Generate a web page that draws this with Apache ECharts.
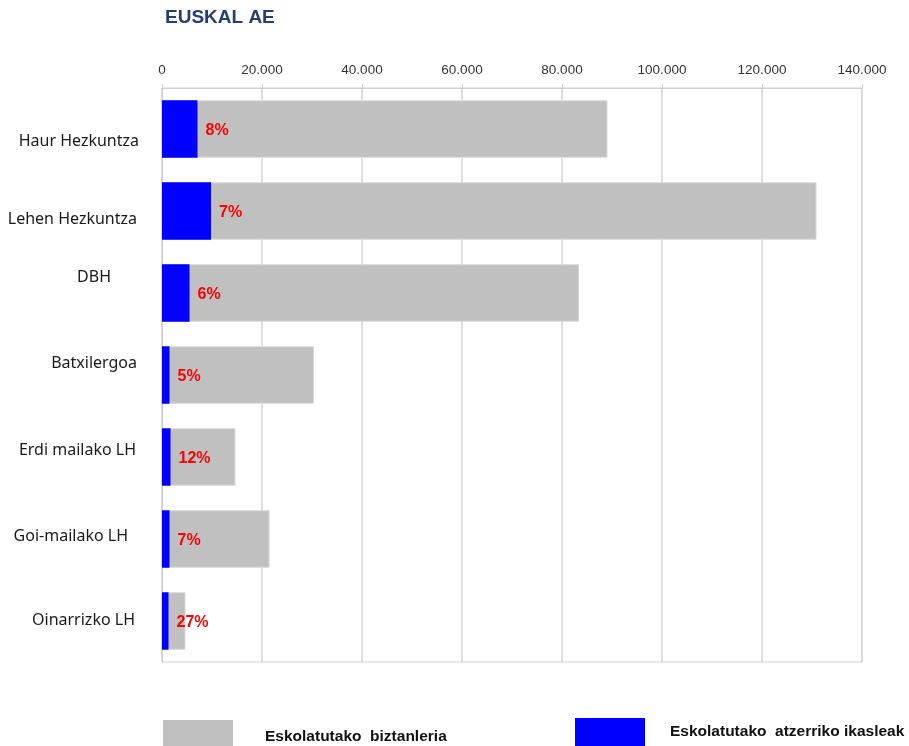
<!DOCTYPE html>
<html>
<head>
<meta charset="utf-8">
<script src="https://cdn.jsdelivr.net/npm/echarts@6/dist/echarts.min.js"></script>
<style>html,body{margin:0;padding:0;background:#fff;}#c{width:909px;height:746px;}</style>
</head>
<body>
<div id="c"></div>
<script>
// Data
var categories = ['Haur Hezkuntza', 'Lehen Hezkuntza', 'DBH', 'Batxilergoa', 'Erdi mailako LH', 'Goi-mailako LH', 'Oinarrizko LH'];
var totalPopulation = [89100, 130900, 83400, 30400, 14700, 21500, 4700];   // Eskolatutako biztanleria
var foreignStudents = [7100, 9800, 5500, 1500, 1700, 1500, 1300];         // Eskolatutako atzerriko ikasleak
var percentLabels = ['8%', '7%', '6%', '5%', '12%', '7%', '27%'];
var seriesNames = ['Eskolatutako  biztanleria', 'Eskolatutako  atzerriko ikasleak'];
var axisMax = 140000, axisStep = 20000;

// Style-only nudges for category labels [extra right padding, vertical shift]
var labelNudge = [[1, 12], [3, 8], [29, -16], [3, -12], [4, -7], [12, -3], [5, -1]];

var rich = {};
labelNudge.forEach(function (n, i) {
  var dy = n[1];
  rich['a' + i] = {
    fontFamily: 'Noto Sans', fontSize: 16, color: '#1a1a1a',
    padding: [dy > 0 ? 2 * dy : 0, n[0], dy < 0 ? -2 * dy : 0, 0]
  };
});

var legendFont = { fontFamily: 'Liberation Sans, Arial', fontSize: 15.5, fontWeight: 'bold', color: '#111' };

var chart = echarts.init(document.getElementById('c'));
chart.setOption({
  animation: false,
  title: {
    text: 'EUSKAL AE', left: 160, top: 3,
    textStyle: { fontFamily: 'Liberation Sans, Arial', fontSize: 19, fontWeight: 'bold', color: '#263f70' }
  },
  legend: [{
    data: [seriesNames[0]], left: 163, top: 720, padding: 0, itemWidth: 70, itemHeight: 34, icon: 'rect',
    itemStyle: { borderWidth: 0 },
    textStyle: Object.assign({ padding: [0, 0, 0, 27] }, legendFont)
  }, {
    data: [seriesNames[1]], left: 575, top: 718, padding: 0, itemWidth: 70, itemHeight: 28, icon: 'rect',
    itemStyle: { borderWidth: 0 },
    textStyle: Object.assign({ padding: [0, 0, 0, 20] }, legendFont)
  }],
  grid: { left: 162, right: 47, top: 88, bottom: 84, show: true, borderColor: '#cfcfcf', borderWidth: 1 },
  xAxis: {
    type: 'value', position: 'top', min: 0, max: axisMax, interval: axisStep,
    axisLine: { show: true, lineStyle: { color: '#cfcfcf' } },
    axisTick: { show: true, length: 4, lineStyle: { color: '#cfcfcf' } },
    splitLine: { show: true, lineStyle: { color: '#d4d4d4', width: 1.5 } },
    axisLabel: {
      margin: 11, fontFamily: 'Liberation Sans, Arial', fontSize: 13.5, color: '#333',
      formatter: function (v) { return String(v).replace(/\B(?=(\d{3})+(?!\d))/g, '.'); }
    }
  },
  yAxis: {
    type: 'category', data: categories, inverse: true,
    axisLine: { show: true, lineStyle: { color: '#cfcfcf' } },
    axisTick: { show: false },
    axisLabel: {
      margin: 22,
      formatter: function (v, i) { return '{a' + i + '|' + v + '}'; },
      rich: rich
    }
  },
  series: [{
    name: seriesNames[0], type: 'bar', data: totalPopulation, barCategoryGap: '30%',
    itemStyle: { color: '#c0c0c0', borderColor: '#d8d8d8', borderWidth: 1 }, z: 2
  }, {
    name: seriesNames[1], type: 'bar', data: foreignStudents, barGap: '-100%',
    itemStyle: { color: '#0000ff' }, z: 3,
    label: {
      show: true, position: 'right', distance: 8, offset: [0, 2],
      fontFamily: 'Liberation Sans, Arial', fontSize: 16, fontWeight: 'bold', color: '#ff0000',
      formatter: function (p) { return percentLabels[p.dataIndex]; }
    }
  }]
});
</script>
</body>
</html>
